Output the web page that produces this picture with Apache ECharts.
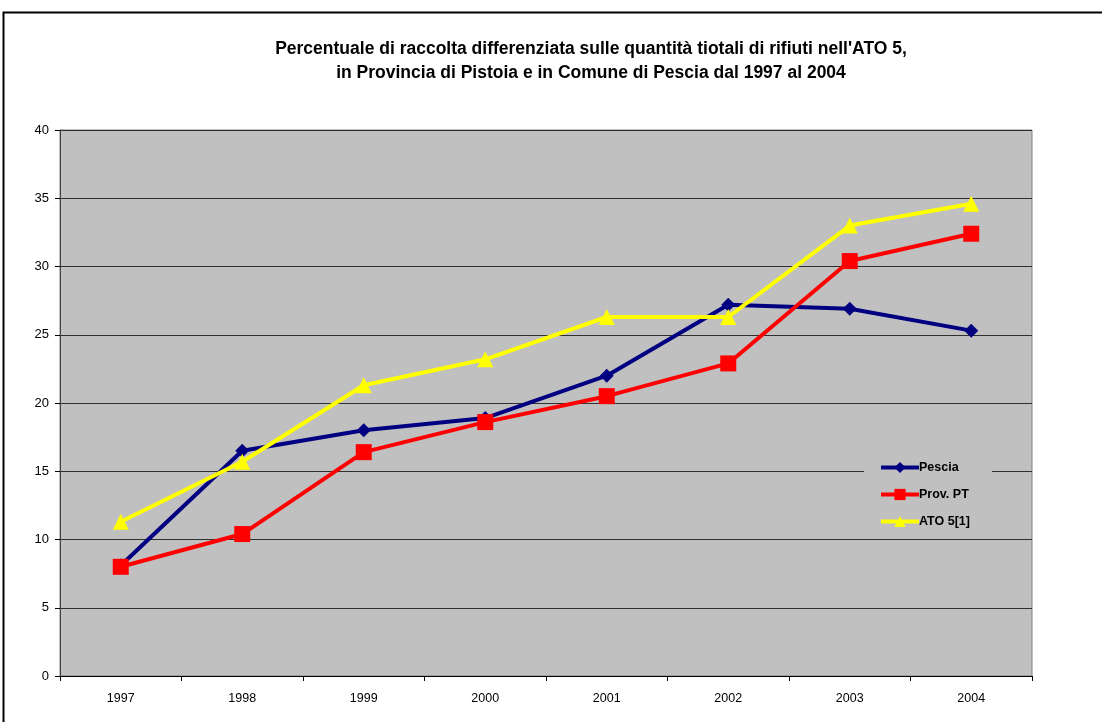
<!DOCTYPE html>
<html>
<head>
<meta charset="utf-8">
<script src="https://cdn.jsdelivr.net/npm/echarts@6/dist/echarts.min.js"></script>
<style>
html,body{margin:0;padding:0;background:#fff;}
#c{width:1102px;height:722px;}
</style>
</head>
<body>
<div id="c"></div>
<script>
const categories = ['1997','1998','1999','2000','2001','2002','2003','2004'];
const pescia = [8.1, 16.5, 18.0, 18.9, 22.0, 27.2, 26.9, 25.3];
const provPT = [8.0, 10.4, 16.4, 18.6, 20.5, 22.9, 30.4, 32.4];
const ato5 = [11.3, 15.7, 21.3, 23.2, 26.3, 26.3, 33.0, 34.6];
const seriesNames = ['Pescia', 'Prov. PT', 'ATO 5[1]'];
const titleText = "Percentuale di raccolta differenziata sulle quantità tiotali di rifiuti nell'ATO 5,\nin Provincia di Pistoia e in Comune di Pescia dal 1997 al 2004";

const chart = echarts.init(document.getElementById('c'), null, {renderer: 'canvas'});
const font = 'Liberation Sans, Arial, sans-serif';
chart.setOption({
  animation: false,
  backgroundColor: '#ffffff',
  textStyle: {fontFamily: font},
  graphic: [{
    type: 'rect', z: -1,
    shape: {x: 3.5, y: 12.5, width: 1120, height: 740},
    style: {fill: 'none', stroke: '#000', lineWidth: 2}
  }],
  title: {
    text: titleText,
    left: 586, textAlign: 'center', top: 32,
    textStyle: {fontSize: 17.5, fontWeight: 'bold', color: '#000', lineHeight: 24, fontFamily: font}
  },
  grid: {
    left: 60, right: 70, top: 130, bottom: 46,
    show: true, backgroundColor: '#c0c0c0', borderColor: '#808080', borderWidth: 1
  },
  legend: {
    orient: 'vertical',
    left: 864, top: 455,
    backgroundColor: '#c0c0c0',
    padding: [6, 22, 6, 15],
    itemWidth: 38, itemHeight: 14, itemGap: 14,
    lineStyle: {width: 4},
    textStyle: {fontSize: 12.5, fontWeight: 'bold', color: '#000', padding: [0,0,0,-5]},
    data: seriesNames
  },
  xAxis: {
    type: 'category', data: categories, boundaryGap: true,
    axisLine: {lineStyle: {color: '#000', width: 1}},
    axisTick: {show: true, interval: 0, length: 5, lineStyle: {color: '#000'}},
    axisLabel: {color: '#000', fontSize: 12.5, margin: 16, fontFamily: font},
    splitLine: {show: false}
  },
  yAxis: {
    type: 'value', min: 0, max: 40, interval: 5,
    axisLine: {show: true, lineStyle: {color: '#404040', width: 1}},
    axisTick: {show: true, length: 5, lineStyle: {color: '#000'}},
    axisLabel: {color: '#000', fontSize: 13, margin: 11, fontFamily: font},
    splitLine: {show: true, lineStyle: {color: '#303030', width: 1}}
  },
  series: [
    {name: seriesNames[0], type: 'line', data: pescia, symbol: 'diamond', symbolSize: 14,
     lineStyle: {color: '#000080', width: 4}, itemStyle: {color: '#000080'}, z: 3},
    {name: seriesNames[1], type: 'line', data: provPT, symbol: 'rect', symbolSize: 16,
     lineStyle: {color: '#ff0000', width: 4}, itemStyle: {color: '#ff0000'}, z: 4},
    {name: seriesNames[2], type: 'line', data: ato5, symbol: 'triangle', symbolSize: 16,
     lineStyle: {color: '#ffff00', width: 4}, itemStyle: {color: '#ffff00'}, z: 5}
  ]
});
</script>
</body>
</html>
